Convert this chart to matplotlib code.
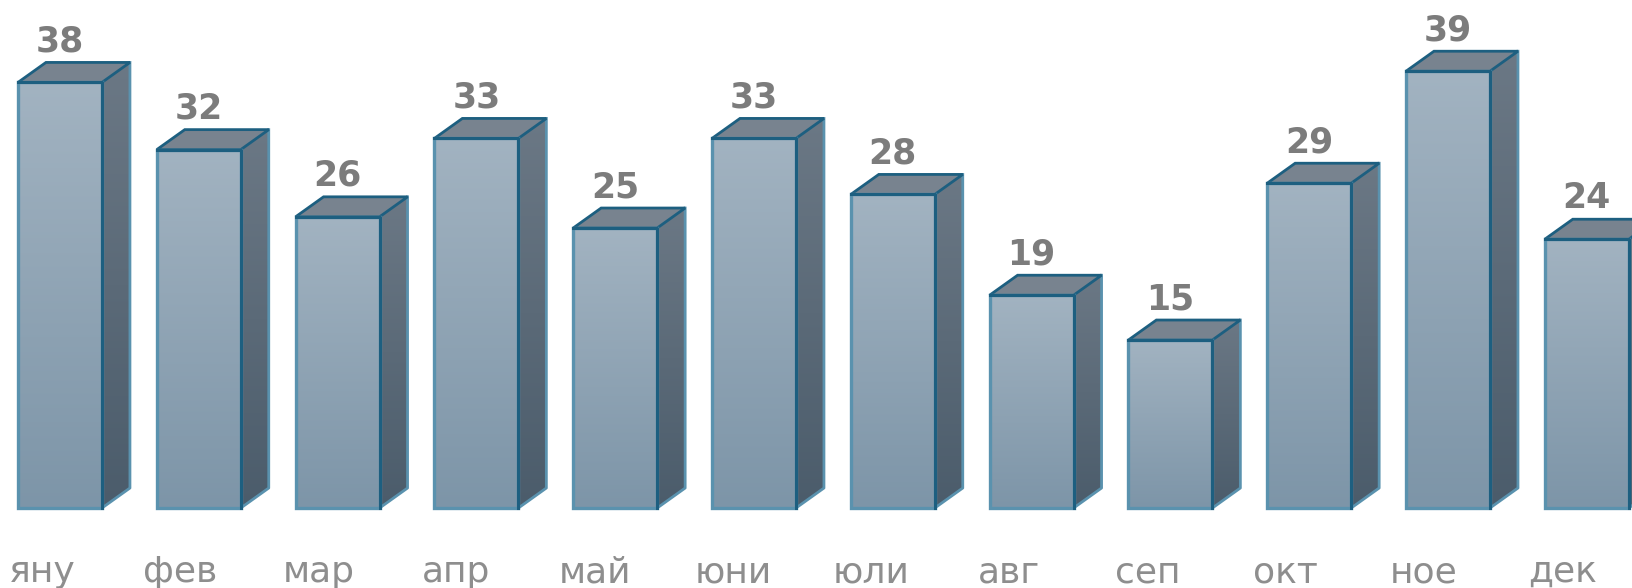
import matplotlib.pyplot as plt
import numpy as np
from matplotlib.patches import Polygon, Rectangle
from matplotlib.colors import LinearSegmentedColormap

months = ['яну', 'фев', 'мар', 'апр', 'май', 'юни', 'юли', 'авг', 'сеп', 'окт', 'ное', 'дек']
values = [38, 32, 26, 33, 25, 33, 28, 19, 15, 29, 39, 24]

plt.rcParams['font.family'] = ['DejaVu Sans']

fig = plt.figure(figsize=(16.33, 5.88), dpi=100)
ax = fig.add_axes([0, 0, 1, 1])
ax.set_xlim(-0.432, 11.333)
ax.set_ylim(-7.14, 45.36)
ax.axis('off')

w = 0.605      # front face width
dx = 0.2017    # depth, x units
dy = 1.786     # depth, y units

front_cmap = LinearSegmentedColormap.from_list('front', ['#7d95a8', '#a2b3c1'])
side_cmap = LinearSegmentedColormap.from_list('side', ['#4b5c6b', '#6b7885'])
grad = np.linspace(0, 1, 256).reshape(-1, 1)
edge = '#1d5f80'
light_edge = '#5a92ae'

for i, v in enumerate(values):
    x0, x1 = i - w / 2, i + w / 2
    # front face
    ax.imshow(grad, cmap=front_cmap, origin='lower', aspect='auto',
              extent=[x0, x1, 0, v], zorder=2)
    # side face
    side = Polygon([(x1, 0), (x1 + dx, dy), (x1 + dx, v + dy), (x1, v)],
                   closed=True, facecolor='none', edgecolor='none')
    ax.add_patch(side)
    im2 = ax.imshow(grad, cmap=side_cmap, origin='lower', aspect='auto',
                    extent=[x1, x1 + dx, 0, v + dy], zorder=2)
    im2.set_clip_path(side)
    ax.plot([x1, x1 + dx, x1 + dx], [0, dy, v + dy], color=light_edge, lw=2.0, zorder=3)
    # top face
    ax.add_patch(Polygon([(x0, v), (x0 + dx, v + dy), (x1 + dx, v + dy), (x1, v)],
                         closed=True, facecolor='#78838f', edgecolor=edge, lw=2.0, zorder=3))
    # front outline
    ax.add_patch(Rectangle((x0, 0), w, v, facecolor='none', edgecolor=light_edge,
                           lw=2.4, zorder=3))
    ax.plot([x0, x1, x1], [v, v, 0], color=edge, lw=2.2, zorder=4)

    ax.text(i, v + dy + 0.98, str(v), ha='center', va='baseline',
            fontsize=25, fontweight='bold', color='#7c7c7c')
    ax.text(i - 0.13 - i * 0.0043, -6.61, months[i], ha='center', va='baseline',
            fontsize=26, color='#8e8e8e')

fig.savefig('out.png', dpi=100)
